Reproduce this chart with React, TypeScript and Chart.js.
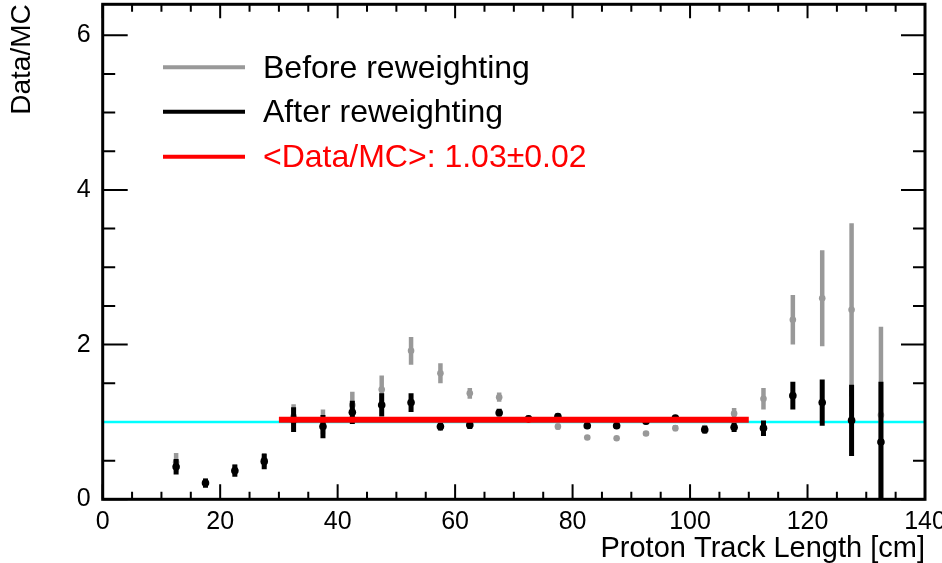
import React, { useEffect, useRef } from "react";
import { Chart, registerables } from "chart.js";

Chart.register(...registerables);

// ---------- data ----------
const binCenters = [
  12.5, 17.5, 22.5, 27.5, 32.5, 37.5, 42.5, 47.5, 52.5, 57.5, 62.5, 67.5, 72.5,
  77.5, 82.5, 87.5, 92.5, 97.5, 102.5, 107.5, 112.5, 117.5, 122.5, 127.5, 132.5,
];
const beforeValues = [
  0.48, 0.22, 0.38, 0.51, 1.07, 1.0, 1.22, 1.42, 1.92, 1.63, 1.37, 1.32, 1.03,
  0.94, 0.8, 0.79, 0.85, 0.92, 0.92, 1.11, 1.3, 2.32, 2.6, 2.45, 1.09,
];
const beforeErrors = [
  0.12, 0.05, 0.07, 0.09, 0.16, 0.16, 0.17, 0.18, 0.18, 0.13, 0.07, 0.06, 0.04,
  0.04, 0.03, 0.03, 0.03, 0.04, 0.04, 0.07, 0.14, 0.32, 0.62, 1.12, 1.14,
];
const afterValues = [
  0.42, 0.21, 0.37, 0.49, 1.03, 0.94, 1.125, 1.22, 1.25, 0.94, 0.96, 1.12, 1.04,
  1.07, 0.95, 0.95, 1.01, 1.05, 0.9, 0.93, 0.92, 1.34, 1.25, 1.02, 0.74,
];
const afterErrors = [
  0.1, 0.06, 0.08, 0.1, 0.16, 0.15, 0.15, 0.15, 0.12, 0.05, 0.05, 0.05, 0.04,
  0.04, 0.04, 0.04, 0.04, 0.04, 0.05, 0.06, 0.1, 0.18, 0.3, 0.46, 0.78,
];
const meanRatio = 1.03;
const meanRange = [30, 110];
const unityValue = 1;
const xRange = [0, 140];
const yRange = [0, 6.4];
const xTickValues = [0, 20, 40, 60, 80, 100, 120, 140];
const yTickValues = [0, 2, 4, 6];
const legendLabels = ["Before reweighting", "After reweighting", "<Data/MC>: 1.03\u00b10.02"];
const xTitle = "Proton Track Length [cm]";
const yTitle = "Data/MC";

// ---------- styles ----------
const FONT = '"Liberation Sans", Arial, Helvetica, sans-serif';
const GRAY = "rgb(153,153,153)";
const BLACK = "#000000";
const RED = "#ff0000";
const CYAN = "#00ffff";

const errorInfo: Record<string, { errors: number[]; color: string; width: number }> = {
  before: { errors: beforeErrors, color: GRAY, width: 4.5 },
  after: { errors: afterErrors, color: BLACK, width: 5 },
};

const errorBarPlugin = {
  id: "errorBars",
  beforeDatasetDraw(chart: any, args: any) {
    const ds = chart.data.datasets[args.index];
    const info = errorInfo[ds.label];
    if (!info) return;
    const { ctx, chartArea, scales } = chart;
    const x = scales.x;
    const y = scales.y;
    ctx.save();
    ctx.beginPath();
    ctx.rect(chartArea.left, chartArea.top, chartArea.right - chartArea.left, chartArea.bottom - chartArea.top);
    ctx.clip();
    ctx.strokeStyle = info.color;
    ctx.lineWidth = info.width;
    ctx.lineCap = "butt";
    ds.data.forEach((p: any, i: number) => {
      const px = x.getPixelForValue(p.x);
      ctx.beginPath();
      ctx.moveTo(px, y.getPixelForValue(p.y - info.errors[i]));
      ctx.lineTo(px, y.getPixelForValue(p.y + info.errors[i]));
      ctx.stroke();
    });
    ctx.restore();
  },
};

const framePlugin = {
  id: "frameTicksLegend",
  beforeDatasetsDraw(chart: any) {
    const { ctx, chartArea, scales } = chart;
    const x = scales.x;
    const y = scales.y;
    const { left, right, top, bottom } = chartArea;
    ctx.save();
    ctx.strokeStyle = BLACK;
    ctx.lineWidth = 2;
    // x ticks (major every 20, minor every 5), bottom and top
    for (let v = xRange[0]; v <= xRange[1] + 1e-9; v += 5) {
      const px = x.getPixelForValue(v);
      const major = Math.abs(v % 20) < 1e-9;
      ctx.beginPath();
      ctx.moveTo(px, bottom);
      ctx.lineTo(px, bottom - (major ? 15 : 7.5));
      ctx.moveTo(px, top);
      ctx.lineTo(px, top + (major ? 14 : 7.5));
      ctx.stroke();
    }
    // y ticks (major every 2, minor every 0.5), left and right
    for (let v = yRange[0]; v <= yRange[1] + 1e-9; v += 0.5) {
      const py = y.getPixelForValue(v);
      const major = Math.abs(v % 2) < 1e-9;
      ctx.beginPath();
      ctx.moveTo(left, py);
      ctx.lineTo(left + (major ? 25 : 12.5), py);
      ctx.moveTo(right, py);
      ctx.lineTo(right - (major ? 24 : 12), py);
      ctx.stroke();
    }
    ctx.restore();
  },
  afterDraw(chart: any) {
    const { ctx, chartArea } = chart;
    const { left, right, top, bottom } = chartArea;
    ctx.save();
    // frame
    ctx.strokeStyle = BLACK;
    ctx.lineWidth = 3;
    ctx.strokeRect(left, top, right - left, bottom - top);

    // legend
    const legendColors = [GRAY, BLACK, RED];
    const legendTextColors = [BLACK, BLACK, RED];
    const rowY = [67.3, 111.7, 156.7];
    ctx.font = `32px ${FONT}`;
    ctx.textBaseline = "alphabetic";
    ctx.textAlign = "left";
    legendLabels.forEach((label, i) => {
      ctx.strokeStyle = legendColors[i];
      ctx.lineWidth = 4;
      ctx.beginPath();
      ctx.moveTo(163, rowY[i]);
      ctx.lineTo(245, rowY[i]);
      ctx.stroke();
      ctx.fillStyle = legendTextColors[i];
      ctx.fillText(label, 263, rowY[i] + 10.5);
    });
    ctx.restore();
  },
};

export default function App() {
  const canvasRef = useRef<HTMLCanvasElement | null>(null);

  useEffect(() => {
    if (!canvasRef.current) return;
    const beforePts = binCenters.map((c, i) => ({ x: c, y: beforeValues[i] }));
    const afterPts = binCenters.map((c, i) => ({ x: c, y: afterValues[i] }));
    const chart = new Chart(canvasRef.current, {
      type: "scatter",
      data: {
        datasets: [
          {
            label: "mean",
            data: [
              { x: meanRange[0], y: meanRatio },
              { x: meanRange[1], y: meanRatio },
            ],
            showLine: true,
            borderColor: RED,
            borderWidth: 6,
            pointRadius: 0,
          } as any,
          {
            label: "after",
            data: afterPts,
            pointRadius: 3.8,
            pointBackgroundColor: BLACK,
            pointBorderWidth: 0,
            borderColor: BLACK,
          },
          {
            label: "before",
            data: beforePts,
            pointRadius: 3.3,
            pointBackgroundColor: GRAY,
            pointBorderWidth: 0,
            borderColor: GRAY,
          },
          {
            label: "unity",
            data: [
              { x: xRange[0], y: unityValue },
              { x: xRange[1], y: unityValue },
            ],
            showLine: true,
            borderColor: CYAN,
            borderWidth: 2.5,
            pointRadius: 0,
          } as any,
        ],
      },
      options: {
        animation: false,
        responsive: false,
        maintainAspectRatio: false,
        layout: { padding: { left: 0, right: 17, top: 4.3, bottom: 0 } },
        plugins: {
          legend: { display: false },
          tooltip: { enabled: false },
        },
        events: [],
        scales: {
          x: {
            type: "linear",
            position: "bottom",
            min: xRange[0],
            max: xRange[1],
            afterBuildTicks: (s: any) => {
              s.ticks = xTickValues.map((v) => ({ value: v }));
            },
            afterFit: (s: any) => {
              s.height = 63.7;
              s.paddingLeft = 0;
              s.paddingRight = 0;
              s.paddingTop = 0;
              s.paddingBottom = 0;
            },
            ticks: {
              font: { family: FONT, size: 25 },
              color: BLACK,
              padding: 8,
              maxRotation: 0,
              autoSkip: false,
            },
            grid: { display: false, drawTicks: false },
            border: { display: false },
            title: {
              display: true,
              text: xTitle,
              align: "end",
              color: BLACK,
              font: { family: FONT, size: 29, lineHeight: 1.0 },
              padding: { top: 0, bottom: 0 },
            },
          },
          y: {
            type: "linear",
            position: "left",
            min: yRange[0],
            max: yRange[1],
            afterBuildTicks: (s: any) => {
              s.ticks = yTickValues.map((v) => ({ value: v }));
            },
            afterFit: (s: any) => {
              s.width = 102.7;
              s.paddingLeft = 0;
              s.paddingRight = 0;
              s.paddingTop = 0;
              s.paddingBottom = 0;
            },
            ticks: {
              font: { family: FONT, size: 25 },
              color: BLACK,
              padding: 12,
              autoSkip: false,
            },
            grid: { display: false, drawTicks: false },
            border: { display: false },
            title: {
              display: true,
              text: yTitle,
              align: "end",
              color: BLACK,
              font: { family: FONT, size: 28 },
              padding: { top: 5, bottom: 0 },
            },
          },
        },
      } as any,
      plugins: [errorBarPlugin, framePlugin],
    });
    return () => chart.destroy();
  }, []);

  return (
    <div style={{ position: "absolute", left: 0, top: 0, width: 942, height: 563, background: "#fff" }}>
      <canvas ref={canvasRef} width={942} height={563} style={{ display: "block" }} />
    </div>
  );
}
